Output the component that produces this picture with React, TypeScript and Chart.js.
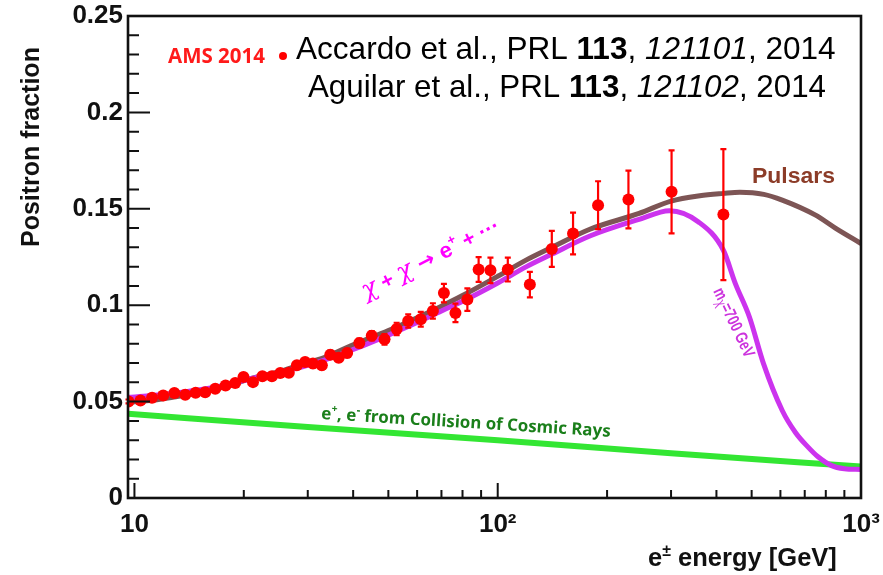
import { useEffect, useRef } from 'react';
import { Chart, registerables } from 'chart.js';

Chart.register(...registerables);

// AMS-02 positron fraction measurements (energy in GeV)
const energy = [9.63, 10.39, 11.18, 12.0, 12.88, 13.8, 14.74, 15.66, 16.69, 17.82, 18.94, 19.96, 21.2, 22.5, 23.9, 25.2, 26.6, 28.0, 29.5, 31.0, 32.8, 34.6, 36.5, 38.5, 41.6, 45.0, 48.8, 52.7, 56.7, 61.4, 66.3, 71.1, 76.5, 82.5, 88.6, 95.5, 106.6, 122.6, 140.9, 161.2, 188.9, 229, 301, 418];
const fraction = [0.0501, 0.0506, 0.052, 0.0532, 0.0544, 0.0536, 0.0546, 0.0549, 0.0567, 0.0584, 0.0596, 0.0627, 0.0601, 0.0631, 0.0631, 0.0648, 0.065, 0.0688, 0.0705, 0.0697, 0.0688, 0.0743, 0.0728, 0.0752, 0.0804, 0.0842, 0.0823, 0.0877, 0.0918, 0.0927, 0.097, 0.1063, 0.096, 0.1029, 0.1185, 0.1181, 0.1185, 0.1107, 0.1292, 0.1372, 0.1519, 0.1548, 0.1588, 0.147];
const fractionErr = [0.001, 0.001, 0.001, 0.001, 0.001, 0.0011, 0.0011, 0.0011, 0.0012, 0.0012, 0.0013, 0.0013, 0.0014, 0.0014, 0.0015, 0.0015, 0.0016, 0.0017, 0.0018, 0.0019, 0.002, 0.0021, 0.0021, 0.0022, 0.0023, 0.0024, 0.0027, 0.0032, 0.0035, 0.0038, 0.004, 0.0048, 0.0048, 0.0058, 0.0064, 0.0066, 0.0062, 0.0066, 0.0093, 0.0108, 0.0124, 0.015, 0.0215, 0.034];

// Pulsar model
const pulsarE = [9.6, 11, 13, 15, 18, 21, 25, 29, 33, 40, 50, 60, 70, 80, 100, 120, 141, 180, 245, 300, 360, 418, 464, 540, 607, 750, 850, 1000];
const pulsarF = [0.0497, 0.0505, 0.0525, 0.0545, 0.058, 0.062, 0.0655, 0.0695, 0.0725, 0.0795, 0.0868, 0.0935, 0.0995, 0.105, 0.115, 0.1235, 0.13, 0.1395, 0.1476, 0.154, 0.1568, 0.158, 0.1586, 0.1575, 0.1545, 0.1467, 0.14, 0.132];

// Dark matter model, m_chi = 700 GeV
const dmE = [9.6, 11, 13, 15, 18, 21, 25, 29, 33, 40, 50, 60, 70, 80, 100, 120, 141, 180, 245, 297, 357, 418, 451, 493, 539, 607, 660, 714, 760, 830, 900, 1000];
const dmF = [0.0522, 0.053, 0.0545, 0.056, 0.0588, 0.062, 0.065, 0.068, 0.0712, 0.077, 0.0845, 0.091, 0.097, 0.102, 0.1115, 0.12, 0.1265, 0.136, 0.1445, 0.149, 0.1432, 0.1285, 0.1112, 0.0939, 0.0697, 0.0454, 0.034, 0.0265, 0.0215, 0.0168, 0.0152, 0.0148];

// Secondary production from cosmic-ray collisions
const secE = [9.6, 30, 100, 300, 1000];
const secF = [0.0437, 0.0368, 0.0299, 0.0232, 0.0163];

const xTickValues = [10, 100, 1000];
const xTickLabels = ['10', '10²', '10³'];
const xMinorTicks = [20, 30, 40, 50, 60, 70, 80, 90, 200, 300, 400, 500, 600, 700, 800, 900];
const yTickValues = [0, 0.05, 0.1, 0.15, 0.2, 0.25];
const yTickLabels = ['0', '0.05', '0.1', '0.15', '0.2', '0.25'];

const SANS = '"Liberation Sans", Arial, sans-serif';
const HUMAN = '"Open Sans", sans-serif';

type Seg = { text: string; size: number; weight?: string; style?: string; family?: string; rise?: number };

function segFont(s: Seg, k: number) {
  return `${s.style || 'normal'} ${s.weight || 'bold'} ${s.size * k}px ${s.family || SANS}`;
}

// Draws a run of differently styled text pieces, optionally rotated,
// horizontally condensed, and scaled so the run spans `width` pixels.
function drawRich(
  ctx: CanvasRenderingContext2D,
  segs: Seg[],
  x: number,
  y: number,
  opts: { angle?: number; align?: 'left' | 'center' | 'right'; color: string; width?: number; stretch?: number }
) {
  const { angle = 0, align = 'left', color, width, stretch = 1 } = opts;
  ctx.save();
  let w = 0;
  for (const s of segs) {
    ctx.font = segFont(s, 1);
    w += ctx.measureText(s.text).width;
  }
  const k = width ? width / (w * stretch) : 1;
  ctx.translate(x, y);
  ctx.rotate((angle * Math.PI) / 180);
  ctx.scale(stretch, 1);
  let cx = align === 'left' ? 0 : align === 'center' ? (-w * k) / 2 : -w * k;
  ctx.fillStyle = color;
  ctx.textBaseline = 'alphabetic';
  ctx.textAlign = 'left';
  for (const s of segs) {
    ctx.font = segFont(s, k);
    ctx.fillText(s.text, cx, -(s.rise || 0) * k);
    cx += ctx.measureText(s.text).width;
  }
  ctx.restore();
}

const decorations = {
  id: 'decorations',
  afterDatasetsDraw(chart: any) {
    const { ctx } = chart;
    const xs = chart.scales.x;
    const ys = chart.scales.y;
    // error bars
    ctx.save();
    ctx.strokeStyle = '#ff0000';
    ctx.lineWidth = 2.2;
    energy.forEach((e, i) => {
      const px = xs.getPixelForValue(e);
      const top = ys.getPixelForValue(fraction[i] + fractionErr[i]);
      const bot = ys.getPixelForValue(fraction[i] - fractionErr[i]);
      ctx.beginPath();
      ctx.moveTo(px, top);
      ctx.lineTo(px, bot);
      ctx.moveTo(px - 3, top);
      ctx.lineTo(px + 3, top);
      ctx.moveTo(px - 3, bot);
      ctx.lineTo(px + 3, bot);
      ctx.stroke();
    });
    ctx.restore();
  },
  afterDraw(chart: any) {
    const { ctx, chartArea: a } = chart;
    const xs = chart.scales.x;
    const ys = chart.scales.y;
    ctx.save();
    // frame
    ctx.strokeStyle = '#111';
    ctx.lineWidth = 2.6;
    ctx.strokeRect(a.left, a.top, a.right - a.left, a.bottom - a.top);
    // inward ticks
    ctx.lineWidth = 2;
    ctx.beginPath();
    for (let i = 1; i < 25; i++) {
      const v = i / 100;
      const py = ys.getPixelForValue(v);
      const len = i % 5 === 0 ? 22 : 11;
      ctx.moveTo(a.left, py);
      ctx.lineTo(a.left + len, py);
    }
    xTickValues.forEach((v) => {
      const px = xs.getPixelForValue(v);
      ctx.moveTo(px, a.bottom);
      ctx.lineTo(px, a.bottom - 15);
    });
    xMinorTicks.forEach((v) => {
      const px = xs.getPixelForValue(v);
      ctx.moveTo(px, a.bottom);
      ctx.lineTo(px, a.bottom - 8);
    });
    ctx.stroke();
    ctx.restore();

    // axis titles
    drawRich(ctx, [{ text: 'Positron fraction', size: 25 }], 39, 147, { angle: -90, align: 'center', color: '#111', width: 200 });
    drawRich(
      ctx,
      [
        { text: 'e', size: 24 },
        { text: '±', size: 15, rise: 9 },
        { text: ' energy [GeV]', size: 24 },
      ],
      837,
      566,
      { align: 'right', color: '#111', width: 189 }
    );

    // legend entry
    drawRich(ctx, [{ text: 'AMS 2014', size: 20, family: HUMAN }], 168, 63, { color: '#ff1a1a', width: 97 });
    ctx.save();
    ctx.fillStyle = '#ff0000';
    ctx.beginPath();
    ctx.arc(283, 56, 4, 0, Math.PI * 2);
    ctx.fill();
    ctx.restore();

    // references
    drawRich(
      ctx,
      [
        { text: 'Accardo et al., PRL ', size: 31, weight: 'normal' },
        { text: '113', size: 31 },
        { text: ', ', size: 31, weight: 'normal' },
        { text: '121101', size: 31, weight: 'normal', style: 'italic' },
        { text: ', 2014', size: 31, weight: 'normal' },
      ],
      296,
      59,
      { color: '#000', width: 540 }
    );
    drawRich(
      ctx,
      [
        { text: 'Aguilar et al., PRL ', size: 31, weight: 'normal' },
        { text: '113', size: 31 },
        { text: ', ', size: 31, weight: 'normal' },
        { text: '121102', size: 31, weight: 'normal', style: 'italic' },
        { text: ', 2014', size: 31, weight: 'normal' },
      ],
      308,
      97,
      { color: '#000', width: 518 }
    );

    // curve labels
    drawRich(ctx, [{ text: 'Pulsars', size: 23 }], 752, 183, { color: '#8c3c28', width: 83 });
    drawRich(
      ctx,
      [
        { text: 'χ', size: 26, style: 'italic', weight: 'normal', family: '"DejaVu Serif", serif' },
        { text: ' + ', size: 22 },
        { text: 'χ', size: 26, style: 'italic', weight: 'normal', family: '"DejaVu Serif", serif' },
        { text: ' → ', size: 22, family: '"DejaVu Sans", sans-serif' },
        { text: 'e', size: 23 },
        { text: '+', size: 14, rise: 10 },
        { text: ' + ', size: 22 },
        { text: '···', size: 22 },
      ],
      366,
      299,
      { angle: -27, color: '#ff00ff', width: 152 }
    );
    drawRich(
      ctx,
      [
        { text: 'm', size: 13 },
        { text: 'χ', size: 11, weight: 'normal', rise: -2 },
        { text: '=700 GeV', size: 13 },
      ],
      713,
      291,
      { angle: 64.5, color: '#cc33dd', width: 75, stretch: 0.75 }
    );
    drawRich(
      ctx,
      [
        { text: 'e', size: 18, family: HUMAN },
        { text: '+', size: 11, rise: 8, family: HUMAN },
        { text: ', e', size: 18, family: HUMAN },
        { text: '-', size: 12, rise: 8, family: HUMAN },
        { text: ' from Collision of Cosmic Rays', size: 18, family: HUMAN },
      ],
      321,
      419,
      { angle: 3.5, color: '#1a7f1a', width: 290 }
    );
  },
};

export default function App() {
  const ref = useRef<HTMLCanvasElement | null>(null);

  useEffect(() => {
    document.body.style.margin = '0';
    const canvas = ref.current;
    if (!canvas) return;
    const chart = new Chart(canvas, {
      type: 'scatter',
      data: {
        datasets: [
          {
            label: 'AMS 2014',
            data: energy.map((e, i) => ({ x: e, y: fraction[i] })),
            backgroundColor: '#ff0000',
            borderColor: '#ff0000',
            pointRadius: 6,
            borderWidth: 0,
            showLine: false,
            order: 0,
          },
          {
            type: 'line',
            label: 'Dark matter',
            data: dmE.map((e, i) => ({ x: e, y: dmF[i] })),
            borderColor: '#cc33ee',
            borderWidth: 5,
            pointRadius: 0,
            cubicInterpolationMode: 'monotone',
            fill: false,
            order: 1,
          },
          {
            type: 'line',
            label: 'Pulsars',
            data: pulsarE.map((e, i) => ({ x: e, y: pulsarF[i] })),
            borderColor: '#7d5555',
            borderWidth: 5,
            pointRadius: 0,
            cubicInterpolationMode: 'monotone',
            fill: false,
            order: 2,
          },
          {
            type: 'line',
            label: 'Secondary',
            data: secE.map((e, i) => ({ x: e, y: secF[i] })),
            borderColor: '#33e633',
            borderWidth: 6,
            pointRadius: 0,
            cubicInterpolationMode: 'monotone',
            fill: false,
            order: 3,
          },
        ],
      } as any,
      options: {
        responsive: false,
        animation: false,
        events: [],
        layout: { padding: { top: 16, right: 22, bottom: 0, left: 0 } },
        plugins: {
          legend: { display: false },
          tooltip: { enabled: false },
        },
        scales: {
          x: {
            type: 'logarithmic',
            min: 9.6,
            max: 1000,
            grid: { display: false, drawTicks: false },
            border: { display: false },
            afterBuildTicks: (s: any) => {
              s.ticks = xTickValues.map((v) => ({ value: v }));
            },
            afterFit: (s: any) => {
              s.height = 77;
              s.paddingLeft = 0;
              s.paddingRight = 0;
            },
            ticks: {
              autoSkip: false,
              maxRotation: 0,
              padding: 11,
              color: '#111',
              font: { family: SANS, size: 26, weight: 'bold' },
              callback: (_v: any, i: number) => xTickLabels[i],
            },
          },
          y: {
            type: 'linear',
            min: 0,
            max: 0.25,
            grid: { display: false, drawTicks: false },
            border: { display: false },
            afterBuildTicks: (s: any) => {
              s.ticks = yTickValues.map((v) => ({ value: v }));
            },
            afterFit: (s: any) => {
              s.width = 128;
              s.paddingTop = 0;
              s.paddingBottom = 0;
            },
            ticks: {
              padding: 5,
              color: '#111',
              font: { family: SANS, size: 26, weight: 'bold' },
              callback: (_v: any, i: number) => yTickLabels[i],
            },
          },
        },
      } as any,
      plugins: [decorations],
    });
    return () => chart.destroy();
  }, []);

  return (
    <div style={{ position: 'absolute', left: 0, top: 0, width: 883, height: 575, background: '#fff' }}>
      <canvas ref={ref} width={883} height={575} />
    </div>
  );
}
